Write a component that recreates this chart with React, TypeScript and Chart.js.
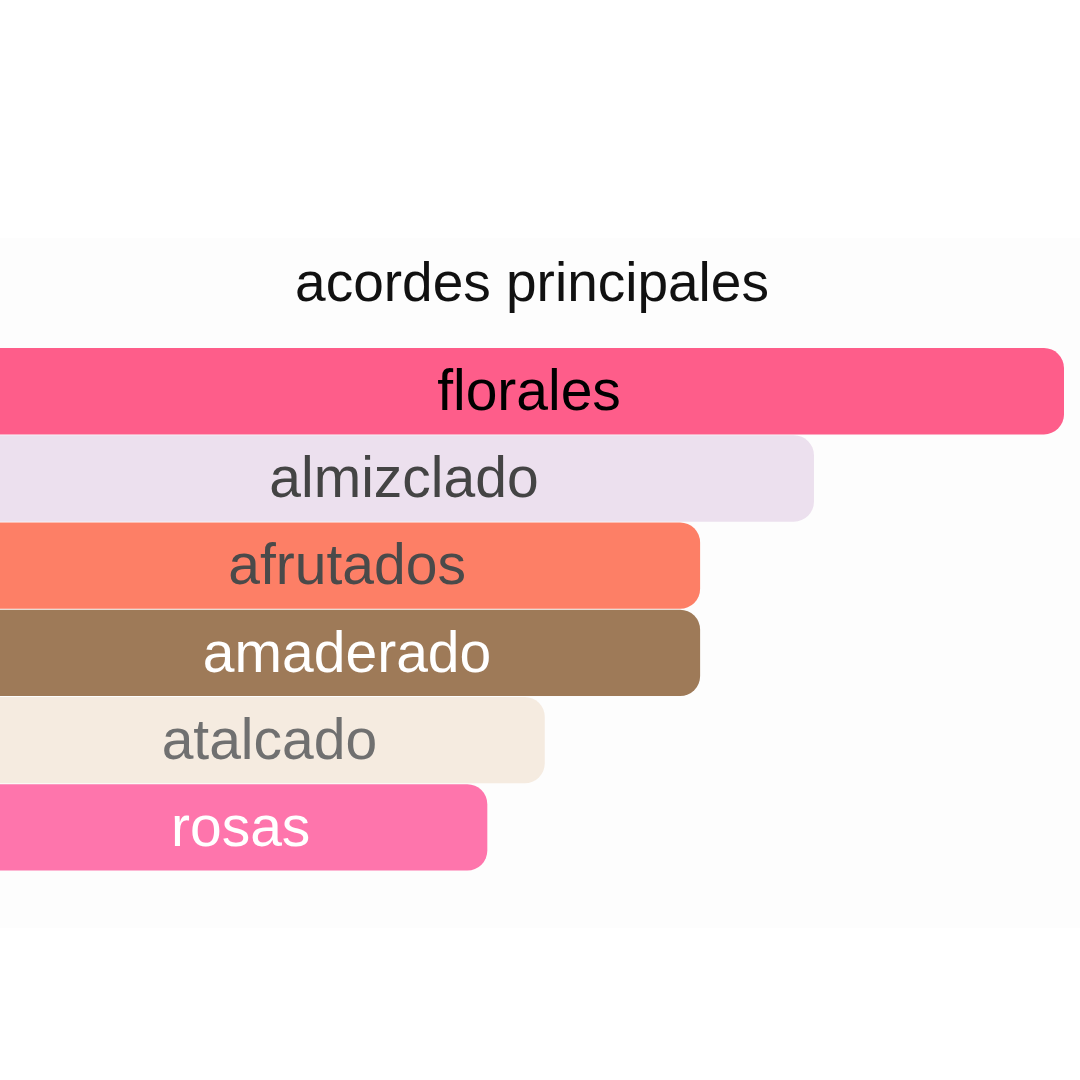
import React, { useEffect, useRef } from "react";
import { Chart, registerables } from "chart.js";

Chart.register(...registerables);

const TITLE = "acordes principales";
const categories = ["florales", "almizclado", "afrutados", "amaderado", "atalcado", "rosas"];
const values = [100, 76.5, 65.8, 65.8, 51.2, 45.8];
const barColors = ["#fe5d8a", "#ece0ee", "#fd7f66", "#9e7a58", "#f5ebe0", "#fe75ac"];
const textColors = ["#000000", "#444444", "#4a4a4a", "#ffffff", "#707070", "#ffffff"];

const FONT = "'Liberation Sans', Arial, sans-serif";

const labelPlugin = {
  id: "insideLabels",
  afterDatasetsDraw(chart: any) {
    const ctx = chart.ctx;
    const meta = chart.getDatasetMeta(0);
    ctx.save();
    ctx.font = `57px ${FONT}`;
    ctx.textAlign = "center";
    ctx.textBaseline = "middle";
    meta.data.forEach((bar: any, i: number) => {
      const { x, y, base } = bar.getProps(["x", "y", "base"], true);
      ctx.fillStyle = textColors[i];
      ctx.fillText(categories[i], (x + base) / 2 - 3, y + 3);
    });
    ctx.restore();
  },
};

export default function App() {
  const ref = useRef<HTMLCanvasElement>(null);
  useEffect(() => {
    document.body.style.margin = "0";
    const chart = new Chart(ref.current!, {
      type: "bar",
      data: {
        labels: categories,
        datasets: [
          {
            data: values,
            backgroundColor: barColors,
            borderWidth: 0,
            borderSkipped: false,
            borderRadius: { topLeft: 0, bottomLeft: 0, topRight: 20, bottomRight: 20 },
            barPercentage: 0.99,
            categoryPercentage: 1,
          },
        ],
      },
      options: {
        indexAxis: "y",
        animation: false,
        responsive: true,
        maintainAspectRatio: false,
        layout: { padding: { top: 0, bottom: 57, left: 0, right: 16 } },
        scales: {
          x: { display: false, min: 0, max: 100 },
          y: { display: false },
        },
        plugins: {
          legend: { display: false },
          tooltip: { enabled: false },
          title: {
            display: true,
            text: TITLE,
            color: "#111111",
            font: { family: FONT, size: 55, weight: "normal", lineHeight: 1.2 },
            padding: { top: 14.6, bottom: 29 },
          },
        },
      },
      plugins: [labelPlugin],
    });
    return () => chart.destroy();
  }, []);
  return (
    <div style={{ width: 1080, height: 1080, background: "#ffffff", position: "relative" }}>
      <div
        style={{
          position: "absolute",
          left: 0,
          top: 238,
          width: 1080,
          height: 690,
          background: "#fdfdfd",
        }}
      >
        <canvas ref={ref} />
      </div>
    </div>
  );
}
